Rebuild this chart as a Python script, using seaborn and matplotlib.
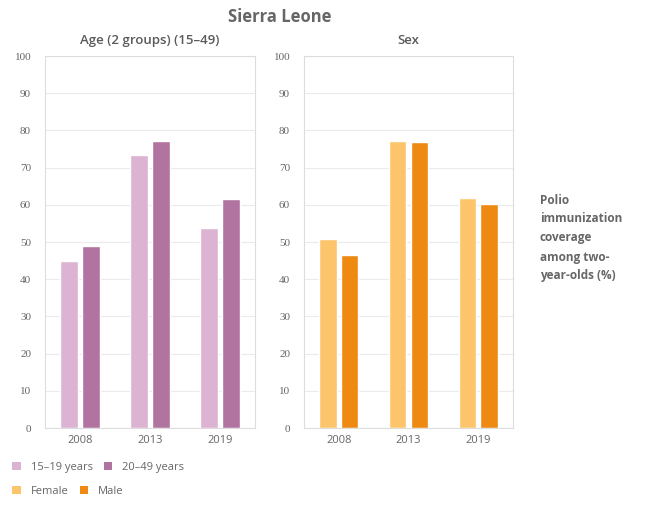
import numpy as np
import pandas as pd
import seaborn as sns
from matplotlib import pyplot as plt
from matplotlib.patches import Patch

years = ["2008", "2013", "2019"]
age_groups = ["15–19 years", "20–49 years"]
age_vals = {"15–19 years": [45.0, 73.5, 53.7],
            "20–49 years": [48.8, 77.2, 61.5]}
sexes = ["Female", "Male"]
sex_vals = {"Female": [50.9, 77.2, 61.9],
            "Male": [46.4, 76.8, 60.3]}

age_colors = ["#dcb3d3", "#b1739f"]
sex_colors = ["#fcc56b", "#ee8a12"]

age_df = pd.DataFrame([(y, g, age_vals[g][i]) for g in age_groups for i, y in enumerate(years)],
                      columns=["year", "group", "value"])
sex_df = pd.DataFrame([(y, g, sex_vals[g][i]) for g in sexes for i, y in enumerate(years)],
                      columns=["year", "group", "value"])

sns.set_theme(style="white")
plt.rcParams['font.family'] = ['Open Sans', 'DejaVu Sans']
grey = "#666666"

fig = plt.figure(figsize=(6.69, 5.11), dpi=100)
ax1 = fig.add_axes([45 / 669, 1 - 428 / 511, 210 / 669, 372 / 511])
ax2 = fig.add_axes([304 / 669, 1 - 428 / 511, 209 / 669, 372 / 511])

for ax, df, cols, title in [(ax1, age_df, age_colors, "Age (2 groups) (15–49)"),
                            (ax2, sex_df, sex_colors, "Sex")]:
    sns.barplot(data=df, x="year", y="value", hue="group", palette=cols, ax=ax,
                width=0.62, gap=0.2, saturation=1, legend=False)
    ax.set_ylim(0, 100)
    ax.set_yticks(range(0, 101, 10))
    ax.set_xlabel("")
    ax.set_ylabel("")
    ax.grid(axis="y", color="#ebebeb", linewidth=0.8)
    ax.set_axisbelow(True)
    for s in ax.spines.values():
        s.set_color("#dddddd")
        s.set_linewidth(0.8)
    ax.tick_params(axis="both", length=0, colors=grey, labelsize=8)
    ax.tick_params(axis="y", pad=10)
    ax.tick_params(axis="x", pad=5)
    for lab in ax.get_yticklabels():
        lab.set_family("Liberation Serif")
    ax.set_title(title, fontsize=9.5, color="#5a5a5a", fontweight="semibold", pad=9)

fig.text(280 / 669, 1 - 17 / 511, "Sierra Leone", ha="center", va="center",
         fontsize=12, fontweight="bold", color=grey)

fig.text(540 / 669, 1 - 238 / 511,
         "Polio\nimmunization\ncoverage\namong two-\nyear-olds (%)",
         ha="left", va="center", fontsize=8.5, fontweight="bold", color=grey,
         linespacing=1.6)

age_handles = [Patch(facecolor=c, edgecolor="none") for c in age_colors]
sex_handles = [Patch(facecolor=c, edgecolor="none") for c in sex_colors]
leg_kw = dict(frameon=False, ncol=2, fontsize=8, handlelength=0.75, handleheight=0.75,
              handletextpad=0.9, columnspacing=1.0, labelcolor=grey, borderaxespad=0)
fig.legend(age_handles, age_groups, loc="center left",
           bbox_to_anchor=(8 / 669, 1 - 467 / 511), **leg_kw)
fig.legend(sex_handles, sexes, loc="center left",
           bbox_to_anchor=(8 / 669, 1 - 491 / 511), **leg_kw)

fig.savefig("out.png", dpi=100)
